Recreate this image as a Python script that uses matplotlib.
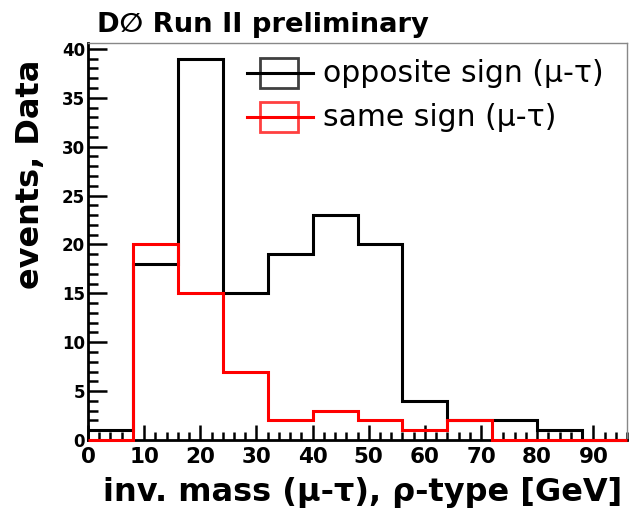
import numpy as np
import matplotlib
matplotlib.use("Agg")
import matplotlib.pyplot as plt
from matplotlib.lines import Line2D
from matplotlib.patches import Rectangle
from matplotlib.ticker import MultipleLocator

plt.rcParams['font.family'] = ['DejaVu Sans']

# Invariant mass bins (GeV), width 8
bin_edges = [0, 8, 16, 24, 32, 40, 48, 56, 64, 72, 80, 88, 96]
opposite_sign = [1, 18, 39, 15, 19, 23, 20, 4, 2, 2, 1, 0]
same_sign = [0, 20, 15, 7, 2, 3, 2, 1, 2, 0, 0, 0]

title = "D\u2205 Run II preliminary"
xlabel = "inv. mass (\u03bc-\u03c4), \u03c1-type [GeV]"
ylabel = "events, Data"
legend_labels = ["opposite sign (\u03bc-\u03c4)", "same sign (\u03bc-\u03c4)"]
series_colors = ["black", "#ff0000"]

fig = plt.figure(figsize=(6.29, 5.11), dpi=100)
ax = fig.add_axes([88 / 629, 71 / 511, (627 - 88) / 629, (440 - 43) / 511])

ax.stairs(opposite_sign, bin_edges, color=series_colors[0], lw=2.2,
          baseline=None, clip_on=False, zorder=3)
ax.stairs(same_sign, bin_edges, color=series_colors[1], lw=2.2,
          baseline=None, clip_on=False, zorder=4)

ax.set_xlim(0, 96)
ax.set_ylim(0, 40.6)

# Axis frame: heavy axes, light box
for side in ("left", "bottom"):
    ax.spines[side].set_linewidth(2.0)
    ax.spines[side].set_color("black")
for side in ("top", "right"):
    ax.spines[side].set_linewidth(1.0)
    ax.spines[side].set_color("#888888")

ax.xaxis.set_major_locator(MultipleLocator(10))
ax.xaxis.set_minor_locator(MultipleLocator(2))
ax.yaxis.set_major_locator(MultipleLocator(5))
ax.yaxis.set_minor_locator(MultipleLocator(1))
ax.tick_params(which="both", direction="in", top=False, right=False, color="black")
ax.tick_params(axis="x", which="major", length=11, width=1.8, pad=5, labelsize=15.5)
ax.tick_params(axis="x", which="minor", length=6, width=1.8)
ax.tick_params(axis="y", which="major", length=14, width=1.8, pad=2, labelsize=12)
ax.tick_params(axis="y", which="minor", length=7, width=1.8)
for lab in ax.get_xticklabels() + ax.get_yticklabels():
    lab.set_fontweight("bold")

fig.text(97 / 629, 1 - 25 / 511, title, fontsize=19.7, fontweight="bold",
         ha="left", va="center")
fig.text(622 / 629, 1 - 492 / 511, xlabel, fontsize=23, fontweight="bold",
         ha="right", va="center")
fig.text(30 / 629, 1 - 60 / 511, ylabel, fontsize=23, fontweight="bold",
         rotation=90, ha="center", va="top")

# Legend drawn in axes coordinates
def ax_xy(px, py):
    return ((px - 88) / (627 - 88), (440 - py) / (440 - 43))

for i, (lbl, col) in enumerate(zip(legend_labels, series_colors)):
    yc = 73 + i * 44
    x0, y0 = ax_xy(247, yc)
    x1, _ = ax_xy(313, yc)
    ax.add_line(Line2D([x0, x1], [y0, y0], color=col, lw=2.2,
                       transform=ax.transAxes, zorder=5))
    bx, by = ax_xy(260, yc + 15)
    bx2, by2 = ax_xy(298, yc - 15)
    ax.add_patch(Rectangle((bx, by), bx2 - bx, by2 - by, fill=False,
                           edgecolor=col, lw=2.0, alpha=0.75,
                           transform=ax.transAxes, zorder=5))
    tx, ty = ax_xy(323, yc)
    ax.text(tx, ty, lbl, fontsize=21.5, ha="left", va="center",
            transform=ax.transAxes, zorder=5)

fig.savefig("out.png", dpi=100)
